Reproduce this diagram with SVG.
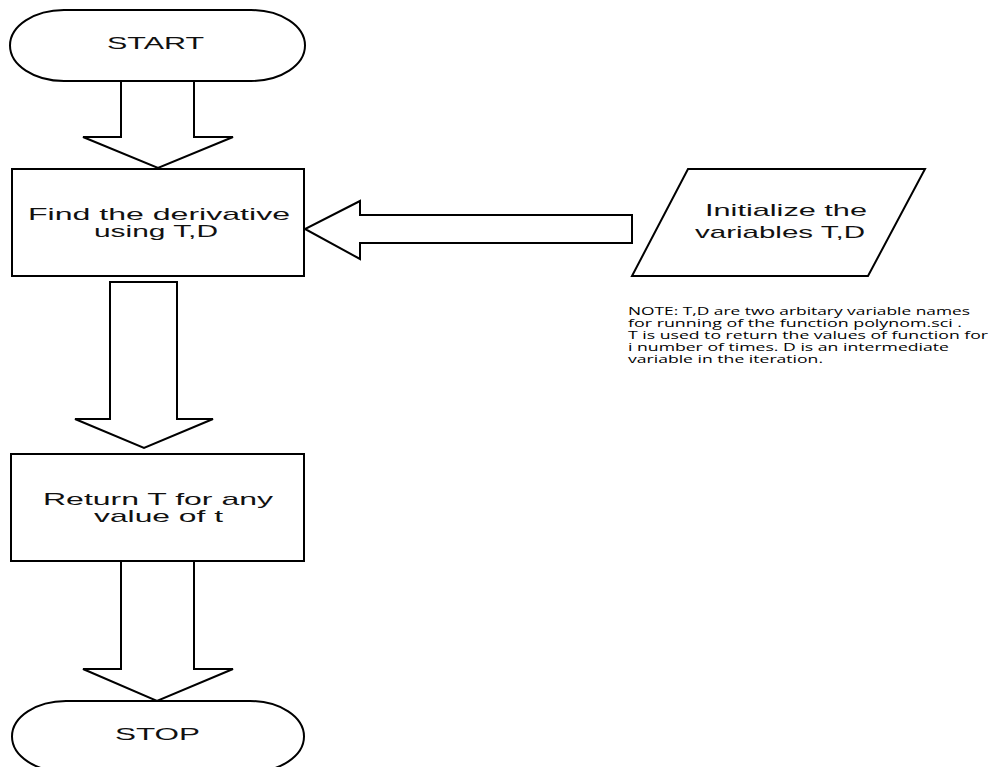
<svg xmlns="http://www.w3.org/2000/svg" width="993" height="767" viewBox="0 0 993 767">
<style>
.shape{fill:#fff;stroke:#000;stroke-width:2;stroke-linejoin:miter}
.lbl{font-family:"Liberation Sans",Arial,sans-serif;font-size:17px;fill:#111}
.note{font-family:"Open Sans","Liberation Sans",sans-serif;font-size:10.5px;fill:#000}
</style>
<rect width="993" height="767" fill="#fff"/>
<g id="connectors">
<polygon class="shape" points="121,81 194,81 194,137 233,137 158,168 83,137 121,137"/>
<polygon class="shape" points="110,282 177,282 177,419 213,419 144,448 75,419 110,419"/>
<polygon class="shape" points="121,561 194,561 194,669 233,669 157,701 83,669 121,669"/>
<polygon class="shape" points="632,215 632,243 360,243 360,259 305,229 360,201 360,215"/>
</g>
<g id="start">
<rect class="shape" x="10" y="10" width="295" height="71" rx="54" ry="35.5"/>
<text class="lbl" x="107" y="49" textLength="97" lengthAdjust="spacingAndGlyphs">START</text>
</g>
<g id="derivative">
<rect class="shape" x="12" y="169" width="292" height="107"/>
<text class="lbl" x="28" y="220" textLength="262" lengthAdjust="spacingAndGlyphs">Find the derivative</text>
<text class="lbl" x="94" y="237" textLength="124" lengthAdjust="spacingAndGlyphs">using T,D</text>
</g>
<g id="init">
<polygon class="shape" points="688,169 925,169 868,276 632,276"/>
<text class="lbl" x="705" y="216" textLength="162" lengthAdjust="spacingAndGlyphs">Initialize the</text>
<text class="lbl" x="695" y="238" textLength="170" lengthAdjust="spacingAndGlyphs">variables T,D</text>
</g>
<g id="note">
<text class="note" x="628" y="315" textLength="342" lengthAdjust="spacingAndGlyphs">NOTE: T,D are two arbitary variable names</text>
<text class="note" x="628" y="327" textLength="334" lengthAdjust="spacingAndGlyphs">for running of the function polynom.sci .</text>
<text class="note" x="628" y="339" textLength="360" lengthAdjust="spacingAndGlyphs">T is used to return the values of function for</text>
<text class="note" x="628" y="351" textLength="321" lengthAdjust="spacingAndGlyphs">i number of times. D is an intermediate</text>
<text class="note" x="628" y="363" textLength="195" lengthAdjust="spacingAndGlyphs">variable in the iteration.</text>
</g>
<g id="return">
<rect class="shape" x="11" y="454" width="293" height="107"/>
<text class="lbl" x="43" y="505" textLength="230" lengthAdjust="spacingAndGlyphs">Return T for any</text>
<text class="lbl" x="94" y="522" textLength="129" lengthAdjust="spacingAndGlyphs">value of t</text>
</g>
<g id="stop">
<rect class="shape" x="12" y="701" width="292" height="71" rx="54" ry="35.5"/>
<text class="lbl" x="115" y="740" textLength="85" lengthAdjust="spacingAndGlyphs">STOP</text>
</g>
</svg>
